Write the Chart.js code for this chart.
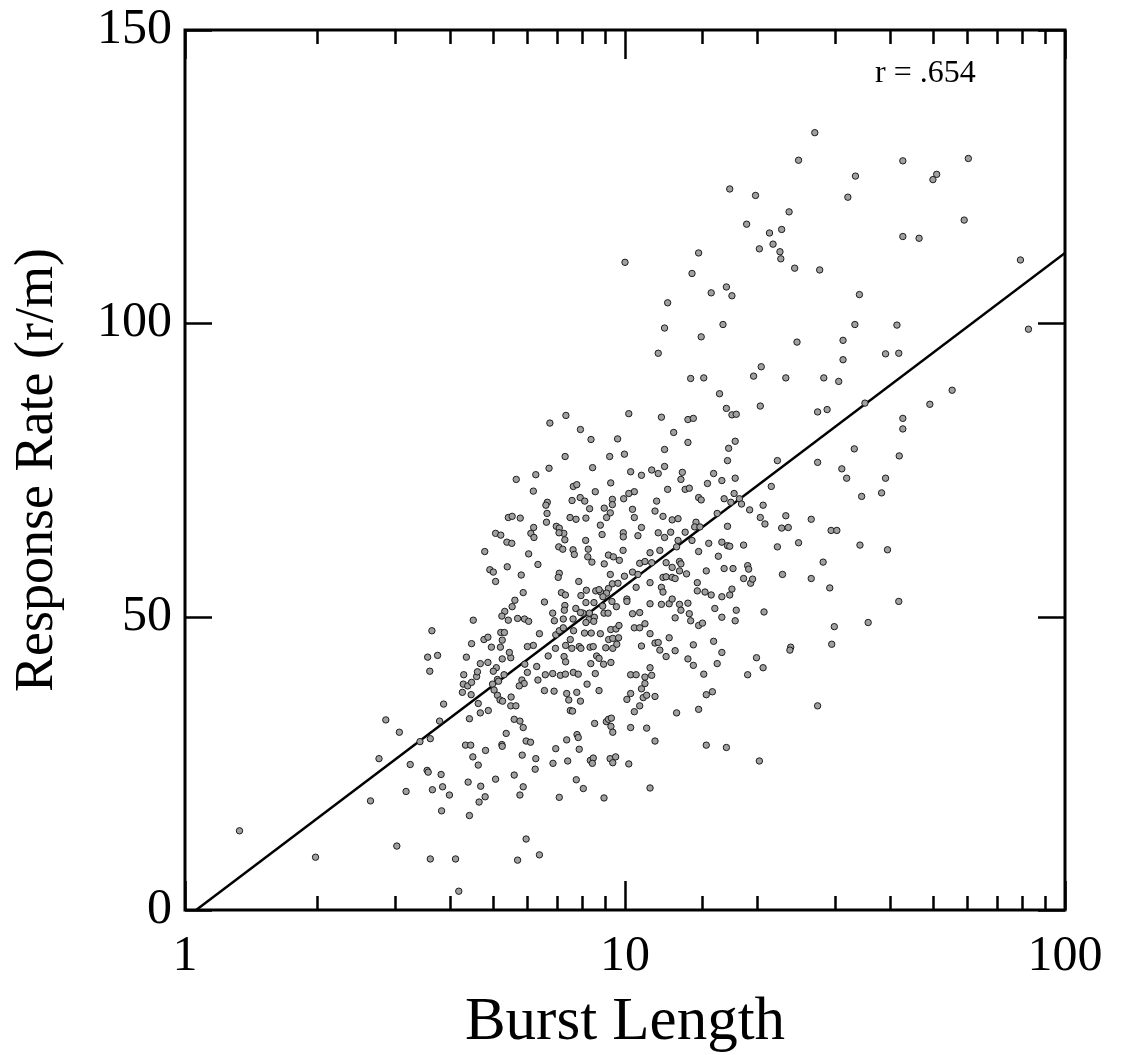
<!DOCTYPE html>
<html>
<head>
<meta charset="utf-8">
<title>Burst Length vs Response Rate</title>
<script src="https://cdn.jsdelivr.net/npm/chart.js@4.4.1/dist/chart.umd.min.js"></script>
<style>
  html, body { margin: 0; padding: 0; background: #fff; }
  #wrap { width: 1123px; height: 1055px; }
</style>
</head>
<body>
<div id="wrap"><canvas id="burstChart" width="1123" height="1055"></canvas></div>
<script>
// values (x = burst length, y = responses per minute)
const burstLength = [
  2.86, 3.07, 3.42, 2.76, 3.25, 2.64, 3.18, 1.33, 1.98, 3.03,
  3.56, 3.75, 3.60, 4.36, 4.30, 4.29, 4.39, 4.48, 4.60, 4.62,
  4.69, 4.88, 4.27, 4.47, 3.87, 4.64, 4.69, 4.89, 4.43, 3.79,
  5.00, 5.10, 5.02, 5.13, 5.16, 5.31, 5.26, 5.50, 5.46, 5.04,
  5.13, 5.20, 5.27, 5.51, 5.50, 5.65, 5.92, 6.00, 5.83, 5.90,
  5.75, 6.30, 6.34, 6.59, 6.85, 7.13, 7.32, 7.63, 7.83, 6.69,
  7.27, 7.33, 6.56, 6.90, 7.37, 7.45, 7.77, 7.92, 8.20, 8.56,
  8.73, 8.36, 8.94, 9.29, 8.62, 8.73, 7.51, 7.60, 5.60, 5.77,
  5.87, 5.37, 8.53, 9.07, 9.17, 9.31, 9.29, 9.38, 7.78, 7.83,
  7.37, 7.87, 6.96, 3.61, 4.34, 4.46, 4.82, 5.25, 5.26, 4.51,
  4.64, 5.84, 5.96, 6.10, 6.27, 6.25, 6.86, 7.41, 8.34, 8.47,
  8.43, 9.25, 9.52, 9.38, 3.55, 3.57, 3.82, 3.65, 3.85, 3.99,
  4.40, 4.70, 4.81, 4.66, 5.08, 5.60, 5.87, 5.77, 3.83, 4.43,
  7.09, 7.75, 8.04, 8.96, 5.96, 5.70, 6.39, 3.61, 4.12, 4.19,
  7.34, 6.75, 7.92, 8.37, 9.62, 7.31, 9.23, 6.72, 8.44, 5.66,
  6.27, 9.28, 7.63, 7.77, 6.19, 8.56, 7.91, 8.10, 7.58, 9.36,
  6.66, 6.61, 8.97, 9.36, 8.31, 6.65, 9.26, 9.08, 5.43, 5.54,
  5.78, 7.50, 7.74, 8.15, 6.63, 8.79, 6.98, 7.09, 6.20, 5.08,
  5.22, 6.11, 7.26, 7.08, 6.21, 8.87, 5.39, 5.53, 7.30, 8.14,
  7.07, 7.22, 7.62, 8.25, 4.80, 6.04, 7.67, 8.23, 9.17, 9.41,
  9.71, 8.41, 6.34, 8.97, 5.40, 4.93, 5.02, 5.08, 5.81, 7.09,
  7.05, 9.26, 7.85, 9.36, 9.64, 9.17, 5.87, 7.17, 7.32, 8.17,
  7.94, 8.58, 8.80, 8.73, 9.08, 5.62, 6.56, 8.15, 8.50, 9.34,
  8.91, 5.54, 7.30, 7.73, 8.03, 7.28, 8.30, 8.90, 9.56, 5.33,
  5.25, 6.85, 6.91, 7.24, 7.62, 7.92, 8.28, 8.52, 8.96, 9.15,
  4.52, 5.43, 5.70, 5.91, 6.04, 8.49, 8.15, 3.64, 5.22, 5.32,
  6.39, 6.96, 7.09, 7.24, 7.64, 8.09, 8.38, 8.79, 9.28, 9.54,
  9.69, 4.48, 4.78, 4.88, 5.26, 6.19, 6.00, 7.33, 7.51, 7.87,
  8.33, 9.18, 9.38, 9.67, 4.97, 5.21, 6.95, 7.57, 7.94, 8.47,
  9.04, 9.38, 9.58,
  10.2, 12.1, 13.9, 14.3, 17.0, 17.5, 17.9, 20.3, 27.4, 12.9,
  13.9, 17.8, 12.3, 17.2, 9.97, 17.1, 22.2, 27.4, 10.3, 10.9,
  11.5, 11.9, 12.3, 13.5, 13.4, 15.9, 16.6, 17.8, 15.4, 12.5,
  13.7, 14.0, 21.5, 10.5, 10.2, 9.93, 11.8, 14.7, 14.9, 16.8,
  17.4, 17.7, 18.2, 18.4, 19.2, 20.6, 10.4, 11.7, 10.5, 12.2,
  12.8, 13.2, 16.2, 20.3, 20.8, 23.2, 26.5, 10.9, 14.5, 14.4,
  14.8, 17.1, 22.7, 23.5, 9.91, 9.91, 10.7, 11.9, 12.3, 12.7,
  13.2, 13.7, 14.2, 15.5, 16.6, 17.1, 17.3, 18.6, 22.2, 24.8,
  9.90, 11.4, 12.0, 13.1, 14.7, 16.3, 10.8, 11.1, 11.5, 12.4,
  12.8, 13.3, 13.4, 13.3, 13.8, 15.3, 16.8, 17.6, 19.0, 19.1,
  22.8, 9.97, 10.4, 10.7, 11.4, 12.2, 12.4, 12.8, 13.0, 12.1,
  12.2, 14.6, 14.6, 15.2, 15.7, 16.6, 17.3, 17.5, 18.6, 19.3,
  19.5, 26.5, 10.6, 10.1, 10.1, 11.4, 12.1, 12.6, 12.8, 13.3,
  13.4, 13.9, 16.0, 17.9, 20.7, 10.4, 10.8, 13.0, 14.0, 14.1,
  16.6, 17.8, 10.5, 10.8, 11.1, 14.7, 15.0, 11.4, 10.9, 11.7,
  11.9, 12.6, 14.3, 15.9, 23.8,
  12.0, 13.0, 12.4, 13.9, 14.3, 16.6, 16.2, 19.9, 20.6, 23.7,
  10.3, 10.6, 11.4, 11.5, 11.1, 11.1, 10.9, 10.3, 10.1, 11.0,
  11.2, 11.7, 10.8, 10.5, 15.1, 15.3, 15.8, 19.0, 13.1, 14.7,
  27.4, 10.3, 11.2, 11.7, 15.3, 17.0, 20.2, 10.2, 11.4,
  55.4, 49.3, 35.1, 28.8, 42.8, 42.8, 33.2, 42.0, 31.1, 31.9,
  39.1, 38.3, 34.5, 29.4, 30.3, 34.2, 39.5, 28.2, 29.2, 41.9,
  29.9, 35.7, 29.5,
  27.0, 24.8, 17.3, 19.8, 23.6, 18.9, 21.3, 22.7, 21.7, 20.2,
  22.5, 22.6, 24.3, 27.7, 14.7, 10.0, 14.2, 17.0, 15.7, 17.5,
  12.5, 12.3, 14.9, 16.7, 24.6, 11.9, 20.4, 19.6, 14.1, 15.1,
  23.2, 28.3, 30.6, 16.4,
  42.8, 60.3, 33.4, 51.1, 50.1, 32.1, 59.0, 42.8, 46.6, 79.2,
  34.1, 33.3, 41.5, 82.6, 31.3, 31.3, 39.1, 41.9
];

const responseRate = [
  32.4, 30.3, 28.7, 25.8, 24.8, 18.6, 20.2, 13.5, 9.0, 10.9,
  43.1, 43.4, 40.7, 43.1, 40.1, 38.5, 38.2, 38.8, 39.8, 40.6,
  42.0, 42.2, 37.1, 36.7, 35.1, 35.2, 33.6, 34.0, 32.6, 32.2,
  38.5, 41.3, 40.7, 39.3, 39.0, 40.1, 42.8, 43.0, 43.9, 37.5,
  36.6, 35.8, 35.6, 36.3, 34.8, 34.8, 41.9, 40.5, 39.2, 38.6,
  38.2, 41.5, 39.2, 40.1, 40.3, 40.0, 40.2, 40.5, 40.2, 43.3,
  43.2, 42.3, 37.4, 37.3, 36.9, 35.8, 37.1, 35.6, 38.5, 40.3,
  37.4, 42.0, 41.9, 42.2, 43.3, 42.9, 34.0, 33.9, 32.5, 32.2,
  31.1, 30.1, 31.8, 32.1, 32.5, 32.7, 31.3, 30.3, 29.9, 29.4,
  29.0, 27.4, 27.5, 29.2, 28.1, 28.1, 27.2, 28.2, 27.9, 26.1,
  24.7, 26.4, 28.8, 28.6, 25.8, 24.0, 25.0, 25.4, 25.5, 25.9,
  25.0, 25.8, 26.1, 25.1, 23.8, 23.5, 23.1, 20.5, 21.0, 19.6,
  21.8, 21.1, 19.3, 18.4, 22.3, 23.0, 21.0, 19.6, 16.9, 16.1,
  19.2, 22.2, 20.7, 19.1, 12.1, 8.5, 9.4, 8.7, 8.7, 3.2,
  84.3, 83.0, 81.9, 80.2, 80.3, 77.3, 77.3, 75.3, 75.4, 73.4,
  74.2, 72.8, 72.2, 72.5, 71.4, 71.3, 70.3, 69.7, 69.8, 70.0,
  69.5, 69.0, 68.5, 69.1, 68.4, 67.6, 67.7, 66.9, 66.9, 67.1,
  66.8, 66.9, 66.6, 66.8, 66.1, 65.6, 65.4, 65.1, 65.2, 64.2,
  63.9, 64.2, 64.2, 64.3, 63.5, 64.0, 62.7, 62.5, 63.1, 63.0,
  61.9, 61.5, 61.4, 61.5, 61.1, 60.7, 60.6, 60.2, 60.5, 60.2,
  59.6, 59.3, 58.9, 59.0, 58.5, 58.0, 57.6, 56.0, 57.1, 57.4,
  56.7, 57.2, 56.0, 55.6, 55.7, 54.8, 54.1, 54.1, 53.7, 54.5,
  53.6, 54.4, 54.2, 54.6, 54.0, 52.8, 52.5, 52.4, 52.4, 52.6,
  53.4, 51.7, 51.9, 51.4, 50.6, 51.1, 50.6, 51.8, 51.7, 50.9,
  50.1, 50.6, 49.3, 49.6, 49.6, 50.7, 49.5, 49.9, 50.6, 50.6,
  49.4, 49.4, 49.7, 49.6, 49.2, 49.2, 49.0, 47.6, 47.3, 47.3,
  47.1, 46.9, 47.6, 48.1, 47.6, 47.2, 47.2, 47.1, 47.8, 47.9,
  48.5, 45.4, 46.1, 46.5, 46.0, 45.1, 44.9, 45.1, 46.1, 44.9,
  44.8, 46.1, 46.3, 46.4, 44.8, 44.8, 44.6, 44.6, 44.6, 44.9,
  44.7, 44.6, 45.3,
  84.6, 84.0, 83.6, 83.8, 85.5, 84.4, 84.5, 85.9, 84.9, 81.4,
  79.7, 79.9, 78.5, 78.7, 77.7, 76.6, 76.6, 76.3, 74.7, 74.1,
  75.0, 74.4, 75.6, 74.6, 73.4, 74.4, 73.2, 73.6, 72.7, 71.7,
  71.7, 71.9, 72.2, 71.3, 71.0, 70.1, 69.7, 70.3, 69.9, 70.1,
  69.5, 71.0, 70.1, 69.2, 68.2, 69.0, 68.3, 68.0, 66.9, 67.1,
  66.5, 66.7, 67.6, 66.9, 65.8, 67.2, 66.6, 65.2, 66.1, 65.3,
  65.3, 65.4, 65.1, 65.2, 64.3, 63.6, 63.8, 64.3, 63.5, 64.4,
  63.0, 64.4, 63.0, 62.5, 62.7, 62.1, 62.0, 62.2, 61.9, 62.6,
  61.3, 60.9, 61.3, 61.9, 61.1, 60.3, 59.1, 59.4, 59.2, 59.2,
  58.4, 59.4, 59.0, 57.8, 57.3, 57.8, 58.2, 58.2, 58.7, 58.1,
  57.2, 56.9, 57.6, 57.2, 55.8, 56.7, 56.8, 56.7, 56.5, 55.0,
  54.2, 55.8, 54.4, 54.2, 53.7, 53.4, 53.7, 54.7, 56.5, 55.7,
  56.4, 56.5, 55.0, 53.0, 52.6, 52.2, 52.1, 52.2, 53.0, 52.1,
  51.1, 52.3, 51.4, 51.1, 50.8, 50.5, 50.7, 49.8, 50.5, 49.3,
  49.9, 49.3, 48.1, 48.1, 48.8, 48.5, 48.9, 47.1, 45.0, 45.5,
  45.6, 46.4, 45.2, 45.8, 44.8,
  44.3, 44.2, 43.2, 42.8, 41.7, 43.9, 42.0, 43.0, 41.3, 44.3,
  40.1, 40.1, 41.3, 40.0, 39.7, 38.6, 37.7, 36.9, 35.9, 36.2,
  36.6, 36.4, 34.8, 33.8, 40.2, 36.7, 37.2, 40.1, 33.6, 34.2,
  34.8, 31.1, 31.0, 28.8, 28.1, 27.7, 25.4, 24.9, 20.8,
  88.6, 86.2, 86.4, 85.3, 83.8, 82.0, 78.6, 77.4, 75.2, 73.6,
  73.6, 71.1, 70.5, 64.7, 64.7, 62.2, 61.4, 59.3, 54.9, 52.6,
  48.3, 49.0, 45.3,
  132.5, 127.8, 122.9, 121.8, 119.0, 116.9, 115.4, 116.0, 113.5, 112.7,
  112.2, 111.0, 109.4, 109.1, 112.0, 110.4, 108.5, 106.2, 105.2, 104.7,
  103.5, 99.2, 97.7, 99.8, 96.8, 94.9, 92.6, 91.0, 90.6, 90.7,
  90.7, 90.7, 90.1, 88.0,
  127.7, 128.1, 125.1, 125.4, 124.5, 121.5, 117.6, 114.8, 114.5, 110.8,
  104.9, 99.8, 99.7, 99.0, 97.1, 93.8, 94.8, 94.9
];

// least-squares line as drawn in the figure (ends at y = 0 and at x = 100)
const fitBurst = [1.06, 100];
const fitRate = [0, 112.0];

const xLabels = [1, 10, 100];
const yLabels = [0, 50, 100, 150];
const corrText = "r = .654";

const serif = '"Liberation Serif", "Times New Roman", Times, serif';

document.addEventListener("DOMContentLoaded", () => {
    if (burstLength.length !== responseRate.length) {
        console.warn("series length mismatch", burstLength.length, responseRate.length);
    }
    const points = burstLength.map((b, i) => ({ x: b, y: responseRate[i] }));
    const fitLine = fitBurst.map((b, i) => ({ x: b, y: fitRate[i] }));

    /* frame, inward ticks and the r label */
    const frameTicks = {
        id: "frameTicks",
        afterDatasetsDraw(chart) {
            const { ctx, chartArea: a, scales: { x, y } } = chart;
            ctx.save();
            ctx.strokeStyle = "#000";
            ctx.lineCap = "butt";

            ctx.lineWidth = 2.5;
            ctx.beginPath();
            x.ticks.forEach(t => {
                const px = Math.round(x.getPixelForValue(t.value)) + 0.5;
                const major = xLabels.includes(t.value);
                const len = major ? 29 : 14;
                ctx.moveTo(px, a.bottom); ctx.lineTo(px, a.bottom - len);
                ctx.moveTo(px, a.top); ctx.lineTo(px, a.top + len);
            });
            y.ticks.forEach(t => {
                const py = Math.round(y.getPixelForValue(t.value)) + 0.5;
                ctx.moveTo(a.left, py); ctx.lineTo(a.left + 27, py);
                ctx.moveTo(a.right, py); ctx.lineTo(a.right - 27, py);
            });
            ctx.stroke();

            ctx.lineWidth = 3;
            ctx.strokeRect(a.left, a.top, a.width, a.height);

            ctx.fillStyle = "#000";
            ctx.font = "32px " + serif;
            ctx.textAlign = "left";
            ctx.textBaseline = "alphabetic";
            ctx.fillText(corrText, a.right - 190, a.top + 52);
            ctx.restore();
        }
    };

    const chartEl = document.getElementById("burstChart");
    new Chart(chartEl.getContext("2d"), {
        type: "scatter",
        data: {
            datasets: [
                {
                    label: "Sessions",
                    data: points,
                    pointRadius: 3.2,
                    pointBackgroundColor: "#a0a0a0",
                    pointBorderColor: "#1c1c1c",
                    pointBorderWidth: 1,
                    order: 0
                },
                {
                    type: "line",
                    label: "Fit",
                    data: fitLine,
                    borderColor: "#000",
                    borderWidth: 2.5,
                    pointRadius: 0,
                    fill: false,
                    tension: 0,
                    order: 1
                }
            ]
        },
        options: {
            responsive: false,
            animation: false,
            devicePixelRatio: 1,
            layout: { padding: { top: 30, right: 58, left: 0, bottom: 0 } },
            plugins: {
                legend: { display: false },
                tooltip: { enabled: false }
            },
            scales: {
                x: {
                    type: "logarithmic",
                    position: "bottom",
                    min: 1,
                    max: 100,
                    grid: { display: false, drawTicks: false },
                    border: { display: false },
                    ticks: {
                        autoSkip: false,
                        maxRotation: 0,
                        padding: 17,
                        color: "#000",
                        font: { family: serif, size: 50 },
                        callback: v => xLabels.includes(v) ? String(v) : ""
                    },
                    title: {
                        display: true,
                        text: "Burst Length",
                        color: "#000",
                        font: { family: serif, size: 61, lineHeight: 1.05 },
                        padding: { top: 0, bottom: 0 }
                    },
                    afterFit: s => { s.height = 145; }
                },
                y: {
                    min: 0,
                    max: 150,
                    grid: { display: false, drawTicks: false },
                    border: { display: false },
                    ticks: {
                        stepSize: 50,
                        padding: 13,
                        color: "#000",
                        font: { family: serif, size: 50 },
                        callback: v => yLabels.includes(v) ? String(v) : ""
                    },
                    title: {
                        display: true,
                        text: "Response Rate (r/m)",
                        color: "#000",
                        font: { family: serif, size: 54 },
                        padding: { top: 5, bottom: 0 }
                    },
                    afterFit: s => {
                        s.width = 185;
                        // let the top/bottom labels overhang the plot like the original
                        s.paddingTop = 0;
                        s.paddingBottom = 0;
                    }
                }
            }
        },
        plugins: [frameTicks]
    });
});
</script>
</body>
</html>
